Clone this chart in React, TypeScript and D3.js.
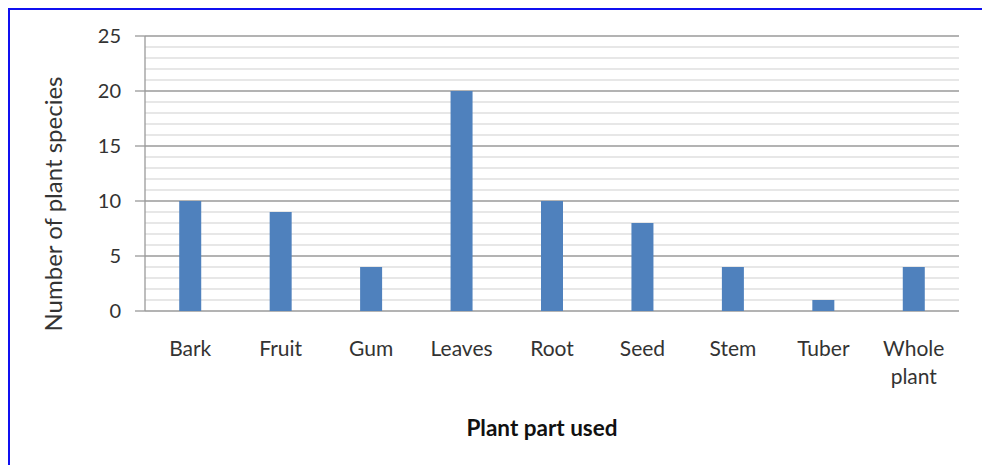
import React from 'react'
import * as d3 from 'd3'

const categories = ['Bark', 'Fruit', 'Gum', 'Leaves', 'Root', 'Seed', 'Stem', 'Tuber', 'Whole plant']
const speciesCounts = [10, 9, 4, 20, 10, 8, 4, 1, 4]
const yTicks = [0, 5, 10, 15, 20, 25]

const W = 982
const H = 465
const margin = { left: 145, right: 23, top: 36, bottom: 154 }
const font = 'Lato, "Open Sans", sans-serif'

const App = () => {
  const x = d3
    .scaleBand()
    .domain(categories)
    .range([margin.left, W - margin.right])
  const y = d3
    .scaleLinear()
    .domain([0, 25])
    .range([H - margin.bottom, margin.top])

  const barWidth = 22
  const minorTicks = d3.range(0, 26)

  return (
    <svg width={W} height={H} style={{ position: 'absolute', left: 0, top: 0, background: '#fff' }}>
      {/* frame */}
      <line x1={8} x2={W} y1={9} y2={9} stroke='#1010f0' strokeWidth={2} />
      <line x1={9} x2={9} y1={8} y2={H} stroke='#1010f0' strokeWidth={2} />

      {/* grid */}
      {minorTicks.map(t => (
        <line
          key={'g' + t}
          x1={margin.left}
          x2={W - margin.right}
          y1={y(t)}
          y2={y(t)}
          stroke={t % 5 === 0 ? '#9a9a9a' : '#cfcfcf'}
          strokeWidth={t % 5 === 0 ? 1.3 : 1.2}
        />
      ))}
      <line x1={margin.left} x2={margin.left} y1={y(25)} y2={y(0)} stroke='#9a9a9a' strokeWidth={1.3} />

      {/* y ticks */}
      {yTicks.map(t => (
        <g key={'t' + t}>
          <line x1={margin.left - 10} x2={margin.left} y1={y(t)} y2={y(t)} stroke='#9a9a9a' strokeWidth={1.3} />
          <text
            x={121}
            y={y(t)}
            dy='0.35em'
            textAnchor='end'
            fontFamily={font}
            fontSize={20}
            fill='#333'
          >
            {t}
          </text>
        </g>
      ))}

      {/* bars */}
      {categories.map((c, i) => (
        <rect
          key={c}
          x={(x(c) ?? 0) + x.bandwidth() / 2 - barWidth / 2}
          y={y(speciesCounts[i])}
          width={barWidth}
          height={y(0) - y(speciesCounts[i])}
          fill='#4f81bd'
        />
      ))}

      {/* x labels */}
      {categories.map(c => {
        const lines = c === 'Whole plant' ? ['Whole', 'plant'] : [c]
        const cx = (x(c) ?? 0) + x.bandwidth() / 2
        return (
          <text
            key={'l' + c}
            x={cx}
            y={349}
            textAnchor='middle'
            fontFamily={font}
            fontSize={21}
            fill='#333'
          >
            {lines.map((l, j) => (
              <tspan key={l} x={cx} dy={j === 0 ? '0.35em' : 28}>
                {l}
              </tspan>
            ))}
          </text>
        )
      })}

      {/* axis titles */}
      <text
        transform='translate(54, 204) rotate(-90)'
        textAnchor='middle'
        dy='0.35em'
        fontFamily={font}
        fontSize={24}
        fill='#333'
      >
        Number of plant species
      </text>
      <text
        x={542}
        y={428}
        dy='0.35em'
        textAnchor='middle'
        fontFamily={font}
        fontSize={22.5}
        fontWeight='bold'
        fill='#111'
      >
        Plant part used
      </text>
    </svg>
  )
}

export default App
